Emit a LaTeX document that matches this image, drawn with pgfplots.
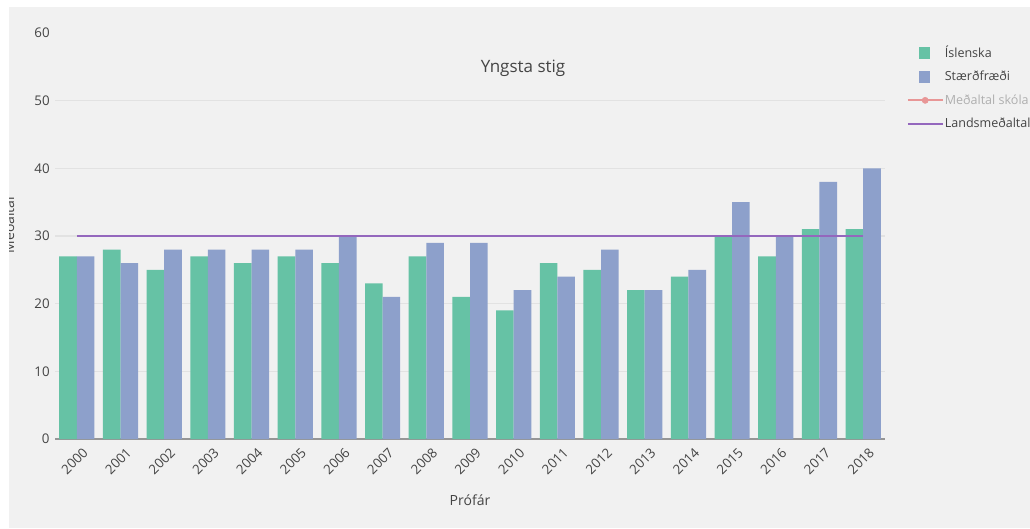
\documentclass[border=0pt]{standalone}
\usepackage{pgfplots}
\pgfplotsset{compat=1.18}
\usepackage{fontspec}
\setmainfont{Open Sans}
\definecolor{bggray}{RGB}{241,241,241}
\definecolor{gridgray}{RGB}{226,226,226}
\definecolor{axgray}{RGB}{150,150,150}
\definecolor{txt}{RGB}{68,68,68}
\definecolor{isl}{RGB}{102,194,165}
\definecolor{stae}{RGB}{141,160,203}
\definecolor{lands}{RGB}{148,103,189}
\definecolor{fadedred}{RGB}{232,150,150}
\definecolor{fadedtxt}{RGB}{175,175,175}
\pgfplotstableread{
x isl stae
0 27 27
1 28 26
2 25 28
3 27 28
4 26 28
5 27 28
6 26 30
7 23 21
8 27 29
9 21 29
10 19 22
11 26 24
12 25 28
13 22 22
14 24 25
15 30 35
16 27 30
17 31 38
18 31 40
}\datatable
\begin{document}
\begin{tikzpicture}[x=0.75pt,y=0.75pt]
\path[use as bounding box] (0,0) rectangle (1030,528);
\clip (0,0) rectangle (1030,528);
\fill[white] (0,0) rectangle (1030,528);
\fill[bggray] (9,0) rectangle (1030,521);
\node[font=\fontsize{10.5}{12}\selectfont, text=txt, rotate=90, anchor=south] at (19,303) {Meðaltal};
\fill[white] (0,0) rectangle (9,528);
\begin{axis}[
  at={(41.25pt,66.75pt)}, anchor=south west,
  scale only axis, width=622.5pt, height=304.5pt,
  xmin=-0.5, xmax=18.5, ymin=0, ymax=60,
  axis x line=bottom, axis y line=left,
  x axis line style={draw=axgray, line width=1.5pt, -},
  y axis line style={draw=none},
  xtick={0,...,18},
  xticklabels={2000,2001,2002,2003,2004,2005,2006,2007,2008,2009,2010,2011,2012,2013,2014,2015,2016,2017,2018},
  ytick={0,10,20,30,40,50},
  extra y ticks={60}, extra y tick style={grid=none},
  major tick length=0pt,
  ymajorgrids, grid style={gridgray, line width=0.9pt},
  /pgf/number format/assume math mode=true,
  tick label style={font=\fontsize{10}{11}\selectfont, text=txt},
  xticklabel style={rotate=45, anchor=east, xshift=2pt, yshift=-10.5pt},
  yticklabel style={xshift=-0.5pt},
  xlabel={Prófár},
  xlabel style={font=\fontsize{10.5}{12}\selectfont, text=txt, at={(axis description cs:0.5,0)}, anchor=center, yshift=-45.75pt},
  legend style={at={(rel axis cs:1.026,0.975)}, anchor=north west, draw=none, fill=none,
    font=\fontsize{9.4}{10}\selectfont, text=txt, cells={anchor=west}, row sep=4.7pt,
    inner sep=0pt, nodes={inner xsep=1pt}},
  legend cell align=left,
  clip=false,
]
\addplot[ybar, bar width=13.2pt, bar shift=-6.6pt, fill=isl, draw=none, forget plot] table[x=x, y=isl] {\datatable};
\addplot[ybar, bar width=13.2pt, bar shift=6.6pt, fill=stae, draw=none, forget plot] table[x=x, y=stae] {\datatable};
\addplot[lands, line width=1.6pt, no marks, forget plot] coordinates {(0,30) (18,30)};
\addlegendimage{legend image code/.code={\fill[isl] (8.5pt,-4pt) rectangle (16pt,4.2pt);}}
\addlegendentry{Íslenska}
\addlegendimage{legend image code/.code={\fill[stae] (8.5pt,-4pt) rectangle (16pt,4.2pt);}}
\addlegendentry{Stærðfræði}
\addlegendimage{legend image code/.code={\draw[fadedred, line width=1.3pt] (0pt,0pt) -- (26pt,0pt); \fill[fadedred] (13pt,0pt) circle (2.3pt);}}
\addlegendentry{\textcolor{fadedtxt}{Meðaltal skóla}}
\addlegendimage{legend image code/.code={\draw[lands, line width=1.5pt] (0pt,0pt) -- (26pt,0pt);}}
\addlegendentry{Landsmeðaltal}
\end{axis}
\node[font=\fontsize{12.75}{14}\selectfont, text=txt] at (523,460) {Yngsta stig};
\fill[white] (0,521) rectangle (1030,528);
\end{tikzpicture}
\end{document}
